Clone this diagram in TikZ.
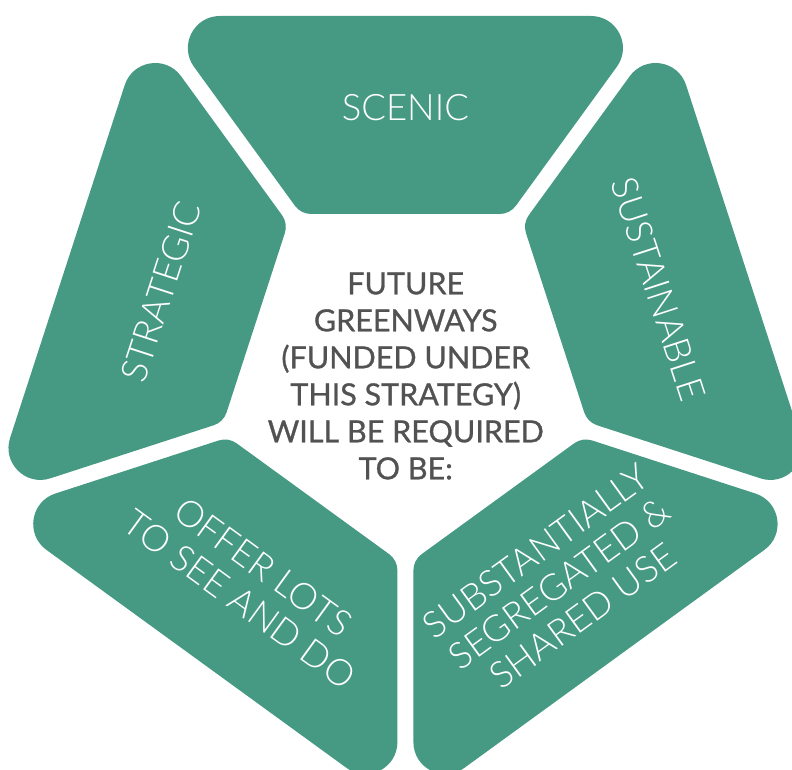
\documentclass[tikz,border=0pt]{standalone}
\usepackage{fontspec}
\setmainfont{Lato}
\newfontfamily\lightfont{Lato Light}
\newfontfamily\centrefont{Lato}[FakeBold=0.9]
\usetikzlibrary{calc}
\definecolor{seggreen}{RGB}{70,154,131}
\definecolor{centergray}{RGB}{82,82,82}
\begin{document}
\begin{tikzpicture}[x=1pt,y=1pt,
  segshape/.style={fill=seggreen},
  seglabel/.style={text=white, font=\lightfont\fontsize{36.5}{40}\selectfont, align=center, inner sep=0pt},
  centerlabel/.style={text=centergray, font=\centrefont\fontsize{30.5}{37}\selectfont, align=center, inner sep=0pt}]
\useasboundingbox (0,0) rectangle (792,770);
\clip (0,0) rectangle (792,770);
\coordinate (C) at (405.4,398.6);
\foreach \k in {0,...,4}{
  \begin{scope}[shift={(C)}, rotate=72*\k]
    \fill[segshape] (-185.52,355.4) -- (185.52,355.4)
      .. controls (211.67,355.4) and (226.78,325.75) .. (211.41,304.59)
      -- (110.46,165.64)
      .. controls (106.70,160.47) and (100.68,157.4) .. (94.28,157.4)
      -- (-94.28,157.4)
      .. controls (-100.68,157.4) and (-106.70,160.47) .. (-110.46,165.64)
      -- (-211.41,304.59)
      .. controls (-226.78,325.75) and (-211.67,355.4) .. (-185.52,355.4)
      -- cycle;
  \end{scope}
}
\node[seglabel] (scenic) at ($(C)+(90:264)$) {SCENIC};
\node[seglabel, rotate=72] (strategic) at ($(C)+(162:257)$) {STRATEGIC};
\node[seglabel, rotate=-72] (sustainable) at ($(C)+(18:266)$) {SUSTAINABLE};
\node[seglabel, rotate=-36] (offer) at ($(C)+(234:262)$) {OFFER LOTS\\TO SEE AND DO};
\node[seglabel, rotate=36] (subst) at ($(C)+(306:262)$) {SUBSTANTIALLY\\SEGREGATED \&\\SHARED USE};
\node[centerlabel] (centre) at (405.7,394) {FUTURE\\GREENWAYS\\(FUNDED UNDER\\THIS STRATEGY)\\WILL BE REQUIRED\\TO BE:};
\end{tikzpicture}
\end{document}
